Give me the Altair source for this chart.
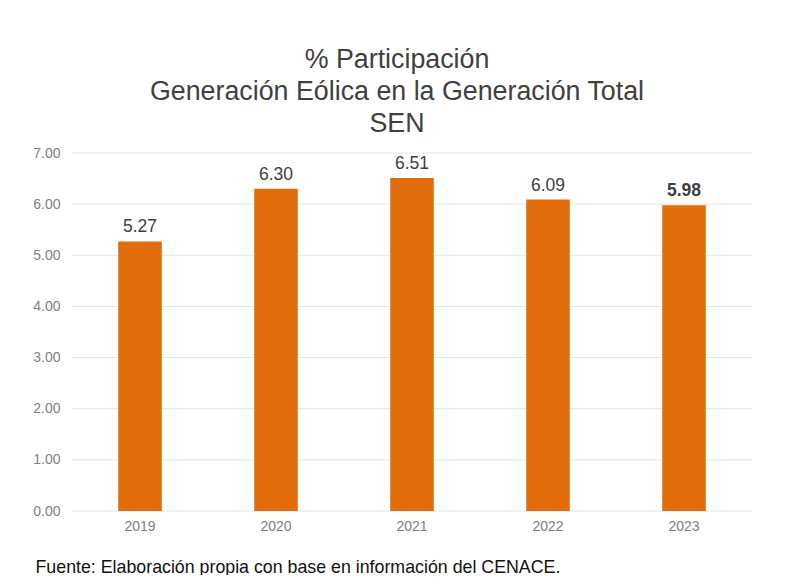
import altair as alt
import pandas as pd

years = ["2019", "2020", "2021", "2022", "2023"]
values = [5.27, 6.30, 6.51, 6.09, 5.98]
labels = ["5.27", "6.30", "6.51", "6.09", "5.98"]
title_lines = ["% Participación", "Generación Eólica en la Generación Total", "SEN"]
source = "Fuente: Elaboración propia con base en información del CENACE."
y_ticks = [0, 1, 2, 3, 4, 5, 6, 7]
bold_year = "2023"

df = pd.DataFrame({"year": years, "value": values, "label": labels})
grid_df = pd.DataFrame({"value": y_ticks})

FONT = "Liberation Sans"
ORANGE = "#E06C0A"

x = alt.X(
    "year:N",
    sort=years,
    scale=alt.Scale(paddingInner=0.68, paddingOuter=0.34),
    axis=alt.Axis(
        title=source,
        titleFont=FONT,
        titleFontSize=17.8,
        titleFontWeight="normal",
        titleColor="#111111",
        titleAnchor="start",
        titleAlign="left",
        titleBaseline="alphabetic",
        titleX=-37,
        titleY=61,
        labelAngle=0,
        labelFont=FONT,
        labelFontSize=14,
        labelColor="#808080",
        labelPadding=8,
        ticks=False,
        domain=False,
        grid=False,
    ),
)

y = alt.Y(
    "value:Q",
    scale=alt.Scale(domain=[0, 7], nice=False),
    axis=alt.Axis(
        title=None,
        values=y_ticks,
        format=".2f",
        labelFont=FONT,
        labelFontSize=14,
        labelColor="#808080",
        labelPadding=12,
        ticks=False,
        domain=False,
        grid=False,
    ),
)

gridlines = alt.Chart(grid_df).mark_rule(color="#e3e3e3", strokeWidth=1).encode(
    y=alt.Y("value:Q")
)

bars = alt.Chart(df).mark_bar(color=ORANGE).encode(x=x, y=y)

text_normal = alt.Chart(df).transform_filter(
    alt.datum.year != bold_year
).mark_text(
    font=FONT, fontSize=17.5, color="#404040", baseline="alphabetic", dy=-9
).encode(
    x=alt.X("year:N", sort=years),
    y=alt.Y("value:Q"),
    text="label:N",
)

text_bold = alt.Chart(df).transform_filter(
    alt.datum.year == bold_year
).mark_text(
    font=FONT, fontSize=17.5, fontWeight="bold", color="#404040", baseline="alphabetic", dy=-9
).encode(
    x=alt.X("year:N", sort=years),
    y=alt.Y("value:Q"),
    text="label:N",
)

chart = (
    alt.layer(gridlines, bars, text_normal, text_bold)
    .properties(
        width=680,
        height=358,
        padding={"left": 64, "top": 145, "right": 27, "bottom": 64},
        autosize=alt.AutoSizeParams(type="none"),
        title=alt.TitleParams(
            title_lines,
            font=FONT,
            fontSize=26.8,
            fontWeight="normal",
            lineHeight=32,
            color="#404040",
            anchor="middle",
            dx=-15,
            offset=8,
        ),
    )
    .configure_view(strokeWidth=0, stroke="transparent")
    .configure_axis(domain=False, grid=False)
    .configure(background="white", style={"cell": {"stroke": "transparent", "strokeWidth": 0}})
)

chart.save("out.html", embed_options={"renderer": "svg", "actions": False})
